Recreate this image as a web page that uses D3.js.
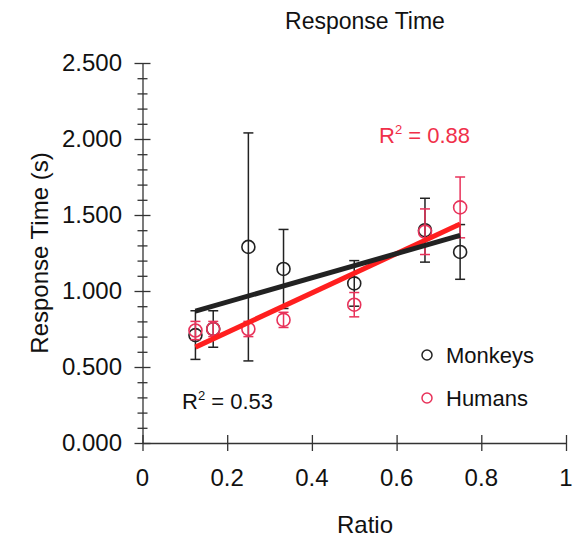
<!DOCTYPE html>
<html lang="en">
	<head>
		<meta charset="utf-8">
		<title>Response Time</title>
		<script src="https://d3js.org/d3.v7.min.js"></script>
		<style>
			body{ margin: 0; background: #fff; }
			text{ font-family: 'Liberation Sans', Arial, sans-serif; }
		</style>
	</head>
	<body>
		<script>
			//Width and height
			var w = 582;
			var h = 537;

			//Data (ratio on x, response time in seconds on y)
			var ratios = [0.125, 0.167, 0.25, 0.333, 0.5, 0.667, 0.75];
			var monkeyTimes = [0.71, 0.75, 1.29, 1.145, 1.05, 1.40, 1.257];
			var monkeyErr = [0.16, 0.12, 0.75, 0.26, 0.15, 0.21, 0.18];
			var humanTimes = [0.74, 0.75, 0.75, 0.81, 0.91, 1.39, 1.55];
			var humanErr = [0.06, 0.05, 0.05, 0.05, 0.08, 0.15, 0.20];
			var xTicks = [0, 0.2, 0.4, 0.6, 0.8, 1];
			var yTicks = [0, 0.5, 1, 1.5, 2, 2.5];
			var r2Labels = ["0.53", "0.88"];
			var seriesNames = ["Monkeys", "Humans"];

			var black = "#222";
			var redLine = "#ff1f1f";
			var redMark = "#e8325a";

			//Scales
			var xScale = d3.scaleLinear().domain([0, 1]).range([142.5, 566]);
			var yScale = d3.scaleLinear().domain([0, 2.5]).range([443, 63]);

			var svg = d3.select("body")
						.append("svg")
						.attr("width", w)
						.attr("height", h);

			//Title
			svg.append("text")
				.attr("x", 365).attr("y", 29)
				.attr("text-anchor", "middle")
				.attr("font-size", "23px")
				.attr("fill", "#111")
				.text("Response Time");

			//Y axis with minor ticks every 0.1
			var yAxis = d3.axisLeft(yScale)
							.tickValues(d3.range(0, 2.5001, 0.1))
							.tickSize(0)
							.tickFormat("");
			var gy = svg.append("g")
				.attr("transform", "translate(" + xScale(0) + ",0)")
				.call(yAxis);
			gy.select(".domain").attr("stroke", "#333").attr("stroke-width", 1.3);
			gy.selectAll(".tick line")
				.attr("x1", function(d) { return Math.abs(d * 2 - Math.round(d * 2)) < 1e-6 ? -8 : -5; })
				.attr("x2", function(d) { return Math.abs(d * 2 - Math.round(d * 2)) < 1e-6 ? 8 : 5; })
				.attr("stroke", "#333").attr("stroke-width", 1.3);

			svg.append("g").selectAll("text")
				.data(yTicks)
				.enter()
				.append("text")
				.attr("x", 122)
				.attr("y", function(d) { return yScale(d) + 8; })
				.attr("text-anchor", "end")
				.attr("font-size", "24px")
				.attr("fill", "#111")
				.text(function(d) { return d3.format(".3f")(d); });

			//X axis
			var xAxis = d3.axisBottom(xScale)
							.tickValues(xTicks)
							.tickSize(0)
							.tickFormat("");
			var gx = svg.append("g")
				.attr("transform", "translate(0," + yScale(0) + ")")
				.call(xAxis);
			gx.select(".domain").attr("stroke", "#333").attr("stroke-width", 1.3);
			gx.selectAll(".tick line")
				.attr("y1", -8).attr("y2", 8)
				.attr("stroke", "#333").attr("stroke-width", 1.3);

			svg.append("g").selectAll("text")
				.data(xTicks)
				.enter()
				.append("text")
				.attr("x", function(d) { return xScale(d); })
				.attr("y", 486)
				.attr("text-anchor", "middle")
				.attr("font-size", "24px")
				.attr("fill", "#111")
				.text(function(d) { return d; });

			//Axis titles
			svg.append("text")
				.attr("x", 365).attr("y", 533)
				.attr("text-anchor", "middle")
				.attr("font-size", "24px")
				.attr("fill", "#111")
				.text("Ratio");
			svg.append("text")
				.attr("transform", "translate(48,253) rotate(-90)")
				.attr("text-anchor", "middle")
				.attr("font-size", "24px")
				.attr("fill", "#111")
				.text("Response Time (s)");

			//least squares fit
			function fit(xs, ys) {
				var mx = d3.mean(xs), my = d3.mean(ys);
				var sxy = d3.sum(xs, function(x, i) { return (x - mx) * (ys[i] - my); });
				var sxx = d3.sum(xs, function(x) { return (x - mx) * (x - mx); });
				var b = sxy / sxx;
				return function(x) { return my + b * (x - mx); };
			}

			function drawSeries(vals, errs, col) {
				var g = svg.append("g");
				var pts = ratios.map(function(x, i) { return {x: x, y: vals[i], e: errs[i]}; });
				g.selectAll("line.bar").data(pts).enter().append("line")
					.attr("x1", function(d) { return xScale(d.x); })
					.attr("x2", function(d) { return xScale(d.x); })
					.attr("y1", function(d) { return yScale(d.y - d.e); })
					.attr("y2", function(d) { return yScale(d.y + d.e); })
					.attr("stroke", col).attr("stroke-width", 1.5);
				[-1, 1].forEach(function(s) {
					g.selectAll(null).data(pts).enter().append("line")
						.attr("x1", function(d) { return xScale(d.x) - 5; })
						.attr("x2", function(d) { return xScale(d.x) + 5; })
						.attr("y1", function(d) { return yScale(d.y + s * d.e); })
						.attr("y2", function(d) { return yScale(d.y + s * d.e); })
						.attr("stroke", col).attr("stroke-width", 1.5);
				});
				g.selectAll("circle").data(pts).enter().append("circle")
					.attr("cx", function(d) { return xScale(d.x); })
					.attr("cy", function(d) { return yScale(d.y); })
					.attr("r", 6.5)
					.attr("fill", "none")
					.attr("stroke", col).attr("stroke-width", 1.6);
			}

			drawSeries(monkeyTimes, monkeyErr, black);
			drawSeries(humanTimes, humanErr, redMark);

			//Regression lines
			var line = d3.line()
				.x(function(d) { return xScale(d[0]); })
				.y(function(d) { return yScale(d[1]); });
			var xEnds = d3.extent(ratios);
			var fH = fit(ratios, humanTimes);
			var fM = fit(ratios, monkeyTimes);
			svg.append("path")
				.attr("d", line(xEnds.map(function(x) { return [x, fH(x)]; })))
				.attr("stroke", redLine).attr("stroke-width", 5).attr("fill", "none");
			svg.append("path")
				.attr("d", line(xEnds.map(function(x) { return [x, fM(x)]; })))
				.attr("stroke", black).attr("stroke-width", 5).attr("fill", "none");

			//R squared labels
			function r2(xPos, yPos, val, col) {
				var t = svg.append("text")
					.attr("x", xPos).attr("y", yPos)
					.attr("font-size", "22px")
					.attr("fill", col);
				t.append("tspan").text("R");
				t.append("tspan").attr("dy", -9).attr("font-size", "13px").text("2");
				t.append("tspan").attr("dy", 9).text(" = " + val);
			}
			r2(182, 409, r2Labels[0], "#111");
			r2(379, 143, r2Labels[1], "#f0304a");

			//Legend
			var legend = svg.append("g");
			legend.selectAll("circle").data(seriesNames).enter().append("circle")
				.attr("cx", 427)
				.attr("cy", function(d, i) { return 355 + i * 43; })
				.attr("r", 5)
				.attr("fill", "none")
				.attr("stroke", function(d, i) { return i ? redMark : black; })
				.attr("stroke-width", 1.5);
			legend.selectAll("text").data(seriesNames).enter().append("text")
				.attr("x", 446)
				.attr("y", function(d, i) { return 363 + i * 43; })
				.attr("font-size", "22px")
				.attr("fill", "#111")
				.text(function(d) { return d; });
		</script>
	</body>
</html>
